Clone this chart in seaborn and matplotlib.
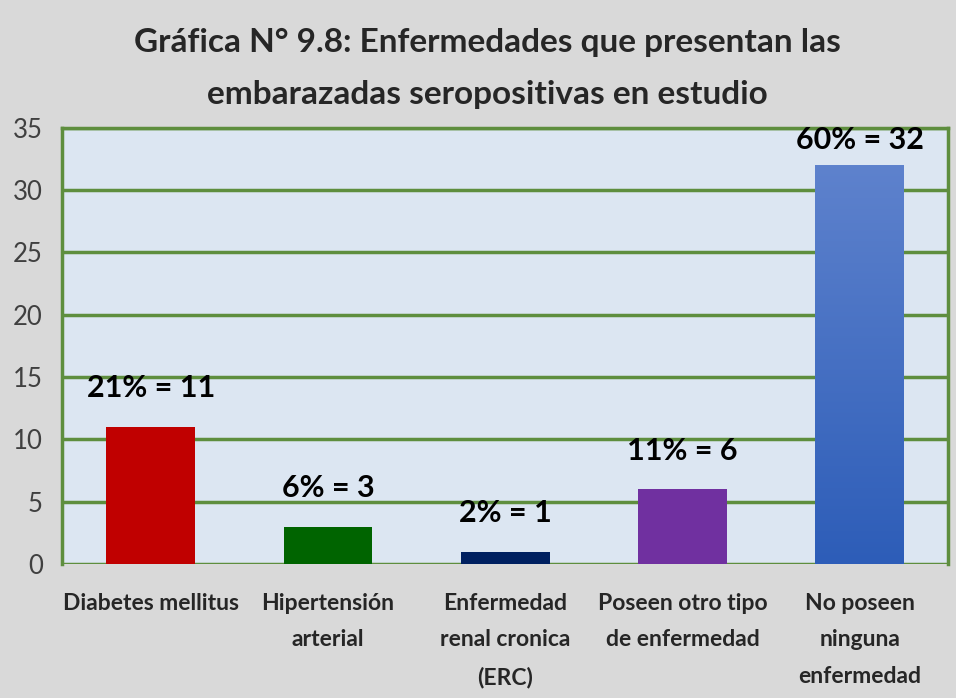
import matplotlib
matplotlib.use("Agg")
import matplotlib.pyplot as plt
import seaborn as sns
import numpy as np
import pandas as pd

# Data
categories = ["Diabetes mellitus", "Hipertensión\narterial",
              "Enfermedad\nrenal cronica\n(ERC)", "Poseen otro tipo\nde enfermedad",
              "No poseen\nninguna\nenfermedad"]
counts = [11, 3, 1, 6, 32]
percents = [21, 6, 2, 11, 60]
bar_colors = ["#C00000", "#006400", "#002060", "#7030A0", "#4A74C9"]

sns.set_theme(style="white")
plt.rcParams["font.family"] = ["Lato", "DejaVu Sans"]

fig = plt.figure(figsize=(9.56, 6.98), dpi=100, facecolor="#D9D9D9")
ax = fig.add_axes([0.065, 0.192, 0.927, 0.625])
ax.set_facecolor("#DCE6F2")

df = pd.DataFrame({"cat": categories, "n": counts})
sns.barplot(data=df, x="cat", y="n", hue="cat", palette=bar_colors,
            legend=False, width=0.5, ax=ax, saturation=1, linewidth=0, zorder=3)

# gradient on the last bar (lighter at the top)
last = ax.patches[-1]
x0, w, h = last.get_x(), last.get_width(), last.get_height()
grad = np.linspace(0, 1, 256).reshape(-1, 1)
cmap = matplotlib.colors.LinearSegmentedColormap.from_list("g", ["#2D5DB8", "#5E82CD"])
im = ax.imshow(grad, extent=[x0, x0 + w, 0, h], aspect="auto", cmap=cmap,
               origin="lower", zorder=4)
im.set_clip_path(last)

ax.set_ylim(0, 35)
ax.set_xlim(-0.5, 4.5)
ax.set_yticks(range(0, 36, 5))
ax.yaxis.grid(True, color="#5E8E3E", linewidth=2.5, zorder=1)
ax.set_axisbelow(True)
for side in ["left", "right", "top"]:
    ax.spines[side].set_color("#5E8E3E")
    ax.spines[side].set_linewidth(2.5)
ax.spines["bottom"].set_visible(False)
ax.tick_params(axis="y", length=0, labelsize=18.5, labelcolor="#404040", pad=14)
ax.tick_params(axis="x", length=0, labelsize=16.5, pad=21)
for t in ax.get_xticklabels():
    t.set_fontweight("bold")
    t.set_linespacing(1.9)
ax.set_xlabel("")
ax.set_ylabel("")

for i, (n, p) in enumerate(zip(counts, percents)):
    ax.text(i, min(n + 3.1, 34.0), f"{p}% = {n}", ha="center", va="center",
            fontsize=22, fontweight="bold", color="black", zorder=5)

fig.text(0.51, 0.902, "Gráfica N° 9.8: Enfermedades que presentan las\nembarazadas seropositivas en estudio",
         ha="center", va="center", fontsize=24, fontweight="bold", color="#262626",
         linespacing=1.95)

fig.savefig("out.png", dpi=100, facecolor=fig.get_facecolor())
